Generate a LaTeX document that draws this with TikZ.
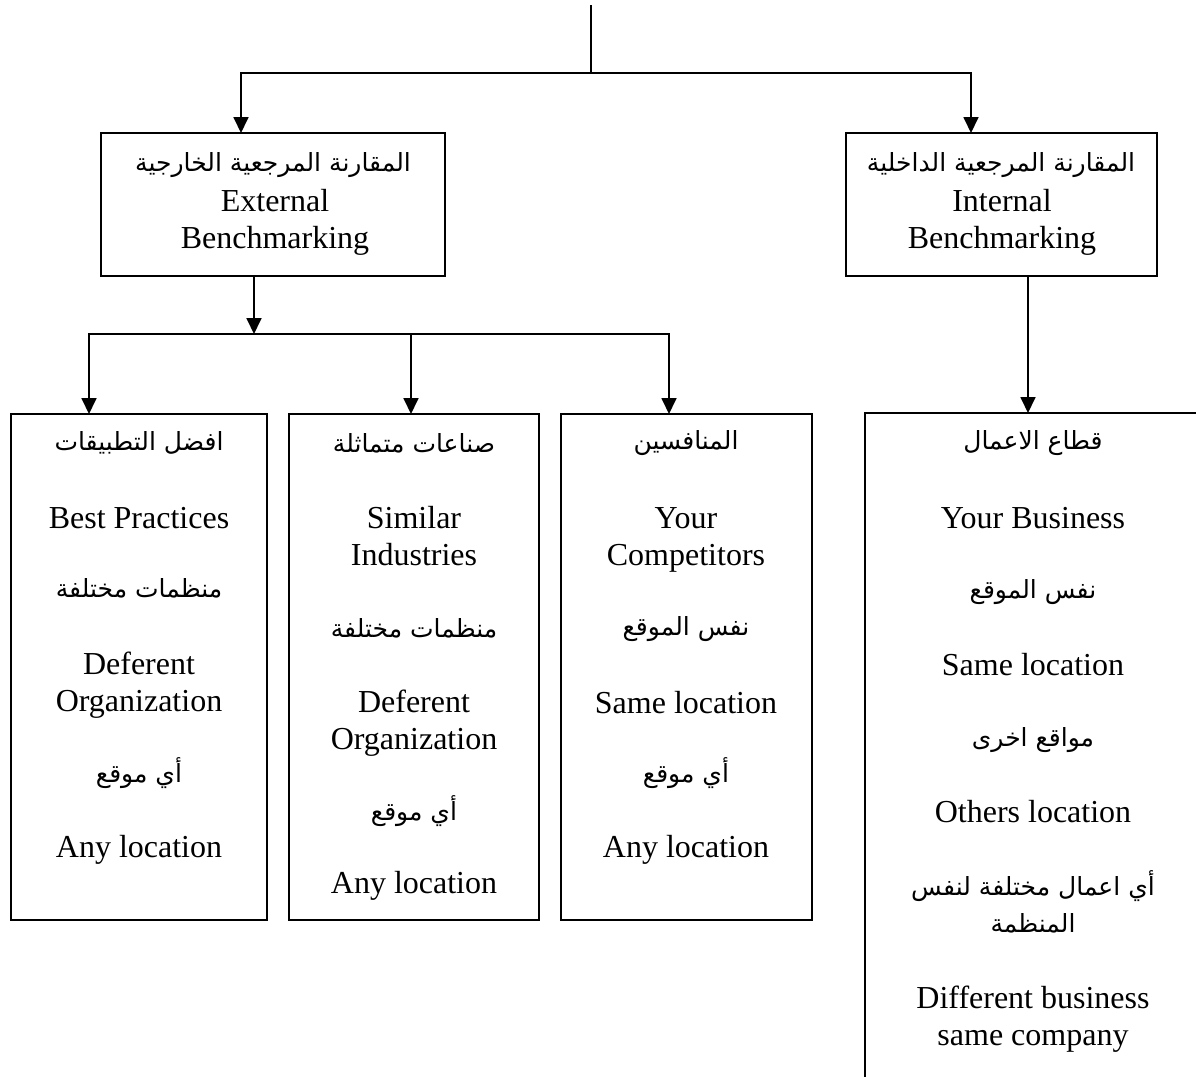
\documentclass[tikz,border=0pt]{standalone}
\usepackage{fontspec}
\setmainfont{Liberation Serif}
\newfontfamily\arabicfont[Script=Arabic]{DejaVu Sans}
\TeXXeTstate=1
\usetikzlibrary{arrows.meta,fit}

\tikzset{
  box/.style={draw, line width=1pt, inner sep=0pt},
  conn/.style={line width=0.9pt},
  arr/.style={conn, -{Triangle[length=8pt,width=7.5pt]}},
  en/.style={font=\fontsize{16}{18.4}\selectfont, align=center, inner sep=0pt},
  ar/.style={font=\arabicfont\fontsize{12.5}{18.4}\selectfont, align=center, inner sep=0pt},
}
\newcommand{\ar}[1]{\beginR #1\endR}

\begin{document}
\begin{tikzpicture}[x=0.5pt, y=-0.5pt]
\useasboundingbox (0,0) rectangle (1196,1077);

% boxes
\coordinate (extnw) at (101,133);  \coordinate (extse) at (445,276);
\coordinate (intnw) at (846,133);  \coordinate (intse) at (1157,276);
\coordinate (b1nw) at (11,414);    \coordinate (b1se) at (267,920);
\coordinate (b2nw) at (289,414);   \coordinate (b2se) at (539,920);
\coordinate (b3nw) at (561,414);   \coordinate (b3se) at (812,920);
\coordinate (b4nw) at (865,413);   \coordinate (b4se) at (1200,1081);

\node[box, fit=(extnw)(extse)] (ext) {};
\node[box, fit=(intnw)(intse)] (int) {};
\node[box, fit=(b1nw)(b1se)] (b1) {};
\node[box, fit=(b2nw)(b2se)] (b2) {};
\node[box, fit=(b3nw)(b3se)] (b3) {};
\node[inner sep=0pt, fit=(b4nw)(b4se)] (b4) {};
\draw[line width=1pt] (b4.north east) -- (b4.north west) -- (b4.south west);

% connectors
\coordinate (top) at (591,5);
\coordinate (j1) at (591,73);
\coordinate (extin) at (241,133);
\coordinate (intin) at (971,133);
\coordinate (j2) at (254,334);
\coordinate (b1in) at (89,414);
\coordinate (b2in) at (411,414);
\coordinate (b3in) at (669,414);
\coordinate (b4in) at (1028,413);

\draw[conn] (top) -- (j1);
\draw[arr] (j1) -| (extin);
\draw[arr] (j1) -| (intin);
\draw[arr] (ext.south -| j2) -- (j2);
\draw[arr] (j2) -| (b1in);
\draw[arr] (j2) -| (b2in);
\draw[arr] (j2) -| (b3in);
\draw[arr] (int.south -| b4in) -- (b4in);

% external / internal headings
\node[ar] (extar) at (273,165) {\ar{المقارنة المرجعية الخارجية}};
\node[en] (exten) at (275,222) {External\\Benchmarking};
\node[ar] (intar) at (1001,165) {\ar{المقارنة المرجعية الداخلية}};
\node[en] (inten) at (1002,222) {Internal\\Benchmarking};

% best practices
\node[ar] (b1a) at (139,443) {\ar{افضل التطبيقات}};
\node[en] (b1b) at (139,518) {Best Practices};
\node[ar] (b1c) at (139,588) {\ar{منظمات مختلفة}};
\node[en] (b1d) at (139,685) {Deferent\\Organization};
\node[ar] (b1e) at (139,773) {\ar{أي موقع}};
\node[en] (b1f) at (139,850) {Any location};

% similar industries
\node[ar] (b2a) at (414,443) {\ar{صناعات متماثلة}};
\node[en] (b2b) at (414,536) {Similar\\Industries};
\node[ar] (b2c) at (414,628) {\ar{منظمات مختلفة}};
\node[en] (b2d) at (414,723) {Deferent\\Organization};
\node[ar] (b2e) at (414,811) {\ar{أي موقع}};
\node[en] (b2f) at (414,886) {Any location};

% competitors
\node[ar] (b3a) at (686,443) {\ar{المنافسين}};
\node[en] (b3b) at (686,540) {Your\\Competitors};
\node[ar] (b3c) at (686,629) {\ar{نفس الموقع}};
\node[en] (b3d) at (686,703) {Same location};
\node[ar] (b3e) at (686,773) {\ar{أي موقع}};
\node[en] (b3f) at (686,850) {Any location};

% business sector
\node[ar] (b4a) at (1033,443) {\ar{قطاع الاعمال}};
\node[en] (b4b) at (1033,518) {Your Business};
\node[ar] (b4c) at (1033,592) {\ar{نفس الموقع}};
\node[en] (b4d) at (1033,665) {Same location};
\node[ar] (b4e) at (1033,740) {\ar{مواقع اخرى}};
\node[en] (b4f) at (1033,812) {Others location};
\node[ar] (b4g) at (1033,902) {\ar{أي اعمال مختلفة لنفس}\\\ar{المنظمة}};
\node[en] (b4h) at (1033,1019) {Different business\\same company};
\end{tikzpicture}
\end{document}
